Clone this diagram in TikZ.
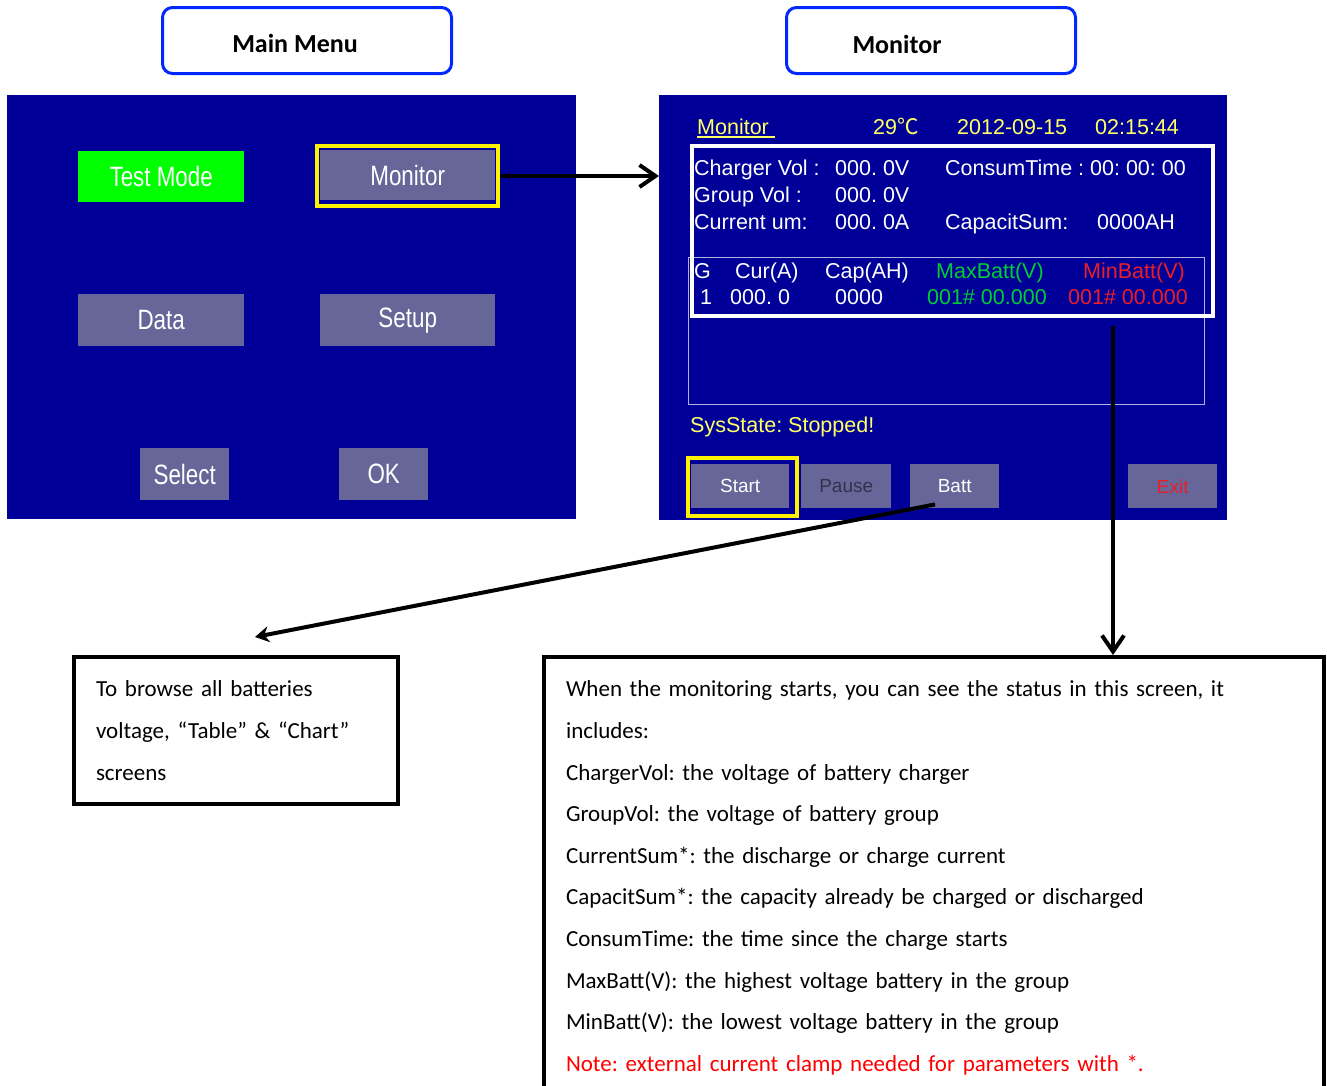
\documentclass[tikz,border=0pt]{standalone}
\usepackage{fontspec}
\setmainfont{Carlito}
\newfontfamily\scrfont{Liberation Sans}
\newfontfamily\narrowfont[FakeStretch=0.8]{Liberation Sans}
\newfontfamily\cjkfont{Noto Sans CJK SC}
\usetikzlibrary{arrows.meta,calc}
\frenchspacing
\definecolor{scrblue}{RGB}{0,0,153}
\definecolor{btngray}{RGB}{102,102,153}
\definecolor{testgreen}{RGB}{0,255,0}
\definecolor{titleblue}{RGB}{0,40,255}
\definecolor{scryellow}{RGB}{255,255,102}
\definecolor{scrgreen}{RGB}{0,204,51}
\definecolor{scrred}{RGB}{235,30,40}
\definecolor{pausetext}{RGB}{50,50,75}
\tikzset{
  screen/.style={fill=scrblue, anchor=north west, inner sep=0pt},
  menubtn/.style={fill=btngray, anchor=north west, inner sep=0pt, text=white,
    font=\narrowfont\fontsize{28}{30}\selectfont},
  monbtn/.style={fill=btngray, anchor=north west, inner sep=0pt, text=white,
    minimum height=44pt, font=\scrfont\fontsize{19}{22}\selectfont},
  selframe/.style={draw=yellow, line width=4pt, anchor=north west, inner sep=0pt},
  titlebox/.style={draw=titleblue, line width=3pt, rounded corners=10pt, fill=white,
    anchor=north west, minimum width=289pt, minimum height=66pt},
  titletext/.style={font=\fontsize{26}{30}\selectfont\bfseries},
  scrtext/.style={anchor=base west, inner sep=0pt, text=white,
    font=\scrfont\fontsize{21.5}{24}\selectfont},
  notebox/.style={draw=black, line width=4pt, anchor=north west, align=left,
    font=\fontsize{23}{41.6}\selectfont},
  barb/.style={line width=4pt, -{Straight Barb[length=16pt,width=22pt]}},
  pointer/.style={line width=4pt, -{Stealth[length=14pt,width=16pt]}}
}
\begin{document}
\begin{tikzpicture}[x=1pt, y=-1pt]
  \useasboundingbox (0,0) rectangle (1327,1085);
  % titles
  \node[titlebox] (mmtitle) at (161,6) {};
  \node[titletext] (mmlabel) at (295,43) {Main Menu};
  \node[titlebox] (montitle) at (785,6) {};
  \node[titletext] (monlabel) at (897,44) {Monitor};
  % main menu screen
  \node[screen, minimum width=569pt, minimum height=424pt] (mainscr) at (7,95) {};
  \node[menubtn, fill=testgreen, minimum width=166pt, minimum height=51pt] (testmode) at (78,151) {Test Mode};
  \node[menubtn, minimum width=175pt, minimum height=50pt] (monbtn) at (320,150) {Monitor};
  \node[selframe, minimum width=181pt, minimum height=60pt] (monsel) at (315,144) {};
  \node[menubtn, minimum width=166pt, minimum height=52pt] (data) at (78,294) {Data};
  \node[menubtn, minimum width=175pt, minimum height=52pt] (setup) at (320,294) {Setup};
  \node[menubtn, minimum width=89pt, minimum height=52pt] (select) at (140,448) {Select};
  \node[menubtn, minimum width=89pt, minimum height=52pt] (ok) at (339,448) {OK};
  % monitor screen
  \node[screen, minimum width=568pt, minimum height=425pt] (monscr) at (659,95) {};
  \node[scrtext, text=scryellow] (hdmon) at (697,134) {Monitor};
  \draw[scryellow, line width=1.5pt] (hdmon.base west) ++(0,3) -- ++(78,0);
  \node[scrtext, text=scryellow] (hdtemp) at (873,134) {29{\cjkfont ℃}};
  \node[scrtext, text=scryellow] (hddate) at (957,134) {2012-09-15};
  \node[scrtext, text=scryellow] (hdtime) at (1095,134) {02:15:44};
  \node[draw=white!70!scrblue, line width=1pt, anchor=north west, inner sep=0pt,
    minimum width=516pt, minimum height=147pt] (tablebox) at (688,257) {};
  \node[draw=white, line width=4pt, anchor=north west, inner sep=0pt,
    minimum width=521pt, minimum height=170pt] (wframe) at (690,144) {};
  \node[scrtext] (chglbl) at (694,175) {Charger Vol :};
  \node[scrtext] (chgval) at (835,175) {000. 0V};
  \node[scrtext] (timelbl) at (945,175) {ConsumTime : 00: 00: 00};
  \node[scrtext] (grplbl) at (694,202) {Group Vol :};
  \node[scrtext] (grpval) at (835,202) {000. 0V};
  \node[scrtext] (curlbl) at (694,229) {Current um:};
  \node[scrtext] (curval) at (835,229) {000. 0A};
  \node[scrtext] (caplbl) at (945,229) {CapacitSum:};
  \node[scrtext] (capval) at (1097,229) {0000AH};
  \node[scrtext] (colg) at (694,278) {G};
  \node[scrtext] (colcur) at (735,278) {Cur(A)};
  \node[scrtext] (colcap) at (825,278) {Cap(AH)};
  \node[scrtext, text=scrgreen] (colmax) at (936,278) {MaxBatt(V)};
  \node[scrtext, text=scrred] (colmin) at (1083,278) {MinBatt(V)};
  \node[scrtext] (rowg) at (700,304) {1};
  \node[scrtext] (rowcur) at (730,304) {000. 0};
  \node[scrtext] (rowcap) at (835,304) {0000};
  \node[scrtext, text=scrgreen] (rowmax) at (927,304) {001\# 00.000};
  \node[scrtext, text=scrred] (rowmin) at (1068,304) {001\# 00.000};
  \node[scrtext, text=scryellow] (sysstate) at (690,432) {SysState: Stopped!};
  \node[monbtn, minimum width=98pt] (start) at (691,464) {Start};
  \node[selframe, minimum width=109pt, minimum height=58pt] (startsel) at (686,456) {};
  \node[monbtn, minimum width=90pt, text=pausetext] (pause) at (801,464) {Pause};
  \node[monbtn, minimum width=89pt] (batt) at (910,464) {Batt};
  \node[monbtn, minimum width=89pt, text=scrred] (exit) at (1128,464) {Exit};
  % notes
  \node[notebox, minimum width=324pt, minimum height=147pt, text width=280pt,
    inner xsep=22pt] (browse) at (72,655)
    {To browse all batteries\\voltage, “Table” \& “Chart”\\screens};
  \node[notebox, text width=736pt, inner xsep=22pt, inner ysep=24pt] (describe) at (542,655)
    {When the monitoring starts, you can see the status in this screen, it\\
     includes:\\
     ChargerVol: the voltage of battery charger\\
     GroupVol: the voltage of battery group\\
     CurrentSum*: the discharge or charge current\\
     CapacitSum*: the capacity already be charged or discharged\\
     ConsumTime: the time since the charge starts\\
     MaxBatt(V): the highest voltage battery in the group\\
     MinBatt(V): the lowest voltage battery in the group\\
     \textcolor{red}{Note: external current clamp needed for parameters with *.}};
  % connectors
  \draw[barb] (monsel.east) -- (monsel.east -| monscr.west);
  \draw[pointer] ($(batt.south west)+(25,-4)$) -- ($(browse.north)+(19,-18)$);
  \coordinate (drop) at ($(wframe.south)+(160.5,8)$);
  \draw[barb] (drop) -- (drop |- describe.north);
\end{tikzpicture}
\end{document}
